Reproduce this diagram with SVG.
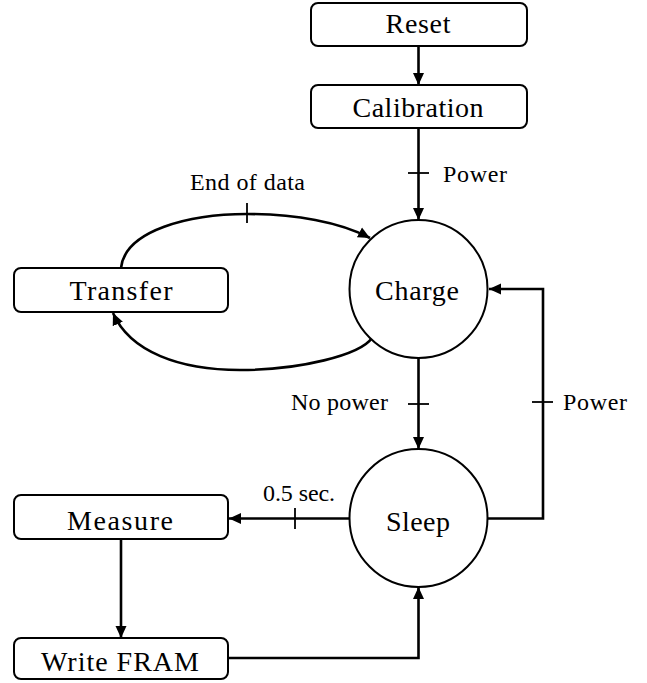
<svg xmlns="http://www.w3.org/2000/svg" width="647" height="683" viewBox="0 0 647 683">
<style>
.box{fill:#fff;stroke:#000;stroke-width:2}
.state{fill:#fff;stroke:#000;stroke-width:2}
.t{font-family:'Liberation Serif','Times New Roman',serif;font-size:28px;fill:#000;text-anchor:middle}
.lbl{font-family:'Liberation Serif','Times New Roman',serif;font-size:24px;fill:#000}
.c{fill:none;stroke:#000;stroke-width:2.6}
.tick{fill:none;stroke:#000;stroke-width:1.8}
</style>
<defs>
<marker id="ah" viewBox="0 0 12 12" refX="12" refY="6" markerWidth="12" markerHeight="12" markerUnits="userSpaceOnUse" orient="auto">
<path d="M0,0.5 L12,6 L0,11.5 Z" fill="#000"/>
</marker>
</defs>
<rect width="647" height="683" fill="#fff"/>
<g id="connectors">
<line class="c" x1="418.5" y1="46" x2="418.5" y2="85" marker-end="url(#ah)"/>
<line class="c" x1="418.5" y1="128" x2="418.5" y2="220" marker-end="url(#ah)"/>
<line class="tick" x1="408" y1="173" x2="429" y2="173"/>
<path class="c" d="M121,268 C125,230 190,214 247,214 C295,214 340,222 370,238" marker-end="url(#ah)"/>
<line class="tick" x1="247" y1="203" x2="247" y2="223"/>
<path class="c" d="M372,338 C360,355 300,370 240,370 C180,370 130,352 113,313" marker-end="url(#ah)"/>
<line class="c" x1="418.5" y1="358" x2="418.5" y2="449" marker-end="url(#ah)"/>
<line class="tick" x1="408" y1="404" x2="429" y2="404"/>
<path class="c" d="M488,518.5 H543 V289 H489" marker-end="url(#ah)"/>
<line class="tick" x1="532" y1="402" x2="553" y2="402"/>
<line class="c" x1="349.5" y1="518.5" x2="229" y2="518.5" marker-end="url(#ah)"/>
<line class="tick" x1="295" y1="508" x2="295" y2="529"/>
<line class="c" x1="121" y1="539" x2="121" y2="638" marker-end="url(#ah)"/>
<path class="c" d="M228,658 H418.5 V587" marker-end="url(#ah)"/>
<text class="lbl" x="443" y="182" textLength="64">Power</text>
<text class="lbl" x="190" y="190" textLength="115">End of data</text>
<text class="lbl" x="291" y="410" textLength="97">No power</text>
<text class="lbl" x="563" y="410" textLength="64">Power</text>
<text class="lbl" x="263" y="501" textLength="72">0.5 sec.</text>
</g>
<g id="reset">
<rect class="box" x="311" y="3" width="216" height="43" rx="7"/>
<text class="t" x="418" y="33" textLength="65">Reset</text>
</g>
<g id="calibration">
<rect class="box" x="311" y="85" width="216" height="43" rx="7"/>
<text class="t" x="418" y="117" textLength="131">Calibration</text>
</g>
<g id="transfer">
<rect class="box" x="14" y="268" width="214" height="44" rx="7"/>
<text class="t" x="121" y="300" textLength="103">Transfer</text>
</g>
<g id="charge">
<circle class="state" cx="418.5" cy="289" r="69"/>
<text class="t" x="417" y="300" textLength="84">Charge</text>
</g>
<g id="sleep">
<circle class="state" cx="418.5" cy="518" r="69"/>
<text class="t" x="418" y="531" textLength="64">Sleep</text>
</g>
<g id="measure">
<rect class="box" x="14" y="495" width="214" height="44" rx="7"/>
<text class="t" x="120" y="530" textLength="106">Measure</text>
</g>
<g id="write-fram">
<rect class="box" x="14" y="638" width="214" height="41" rx="7"/>
<text class="t" x="120" y="671" textLength="158">Write FRAM</text>
</g>
</svg>
